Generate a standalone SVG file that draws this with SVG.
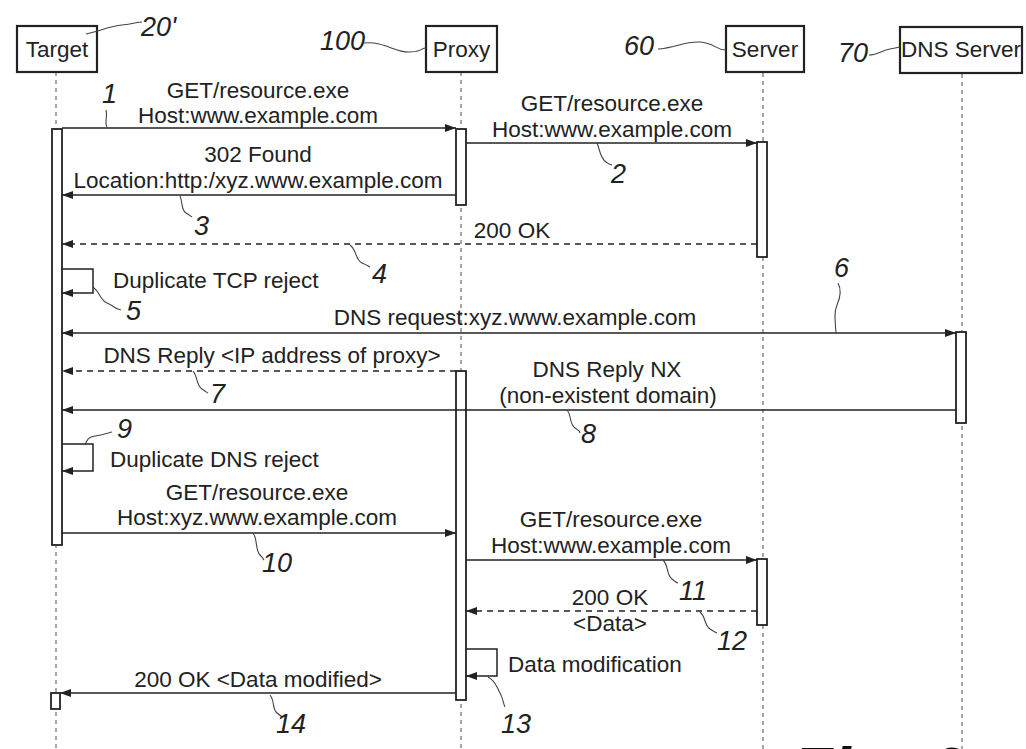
<svg xmlns="http://www.w3.org/2000/svg" width="1026" height="749" viewBox="0 0 1026 749">
<defs>
<marker id="ah" markerUnits="userSpaceOnUse" markerWidth="12" markerHeight="8" refX="11" refY="4" orient="auto-start-reverse">
<path d="M0,0 L11,4 L0,8 z" fill="#222"/>
</marker>
<style>
.box{fill:#fff;stroke:#222;stroke-width:2.2}
.bar{fill:#fff;stroke:#222;stroke-width:1.8}
.life{stroke:#777;stroke-width:1.3;stroke-dasharray:4 4;fill:none}
.msg{stroke:#222;stroke-width:1.5;fill:none}
.dash{stroke-dasharray:6 5}
.t{font-family:"Liberation Sans",Arial,sans-serif;font-size:22.5px;fill:#222}
.m{text-anchor:middle}
.n{font-family:"Liberation Sans",Arial,sans-serif;font-size:27px;font-style:italic;fill:#222}
.lead{stroke:#444;stroke-width:1.1;fill:none}
</style>
</defs>
<rect width="1026" height="749" fill="#fff"/>

<g id="lifelines">
<line class="life" x1="56" y1="72" x2="56" y2="749"/>
<line class="life" x1="461" y1="72" x2="461" y2="749"/>
<line class="life" x1="763" y1="73" x2="763" y2="749"/>
<line class="life" x1="962" y1="74" x2="962" y2="749"/>
</g>

<g id="target">
<rect class="box" x="17" y="26" width="80" height="46"/>
<text class="t m" x="57" y="57">Target</text>
<rect class="bar" x="52" y="129" width="10" height="416"/>
<rect class="bar" x="51" y="693" width="9" height="16"/>
</g>

<g id="proxy">
<rect class="box" x="426" y="26" width="71" height="46"/>
<text class="t m" x="461.5" y="57">Proxy</text>
<rect class="bar" x="456" y="129" width="10" height="76"/>
<rect class="bar" x="456" y="371" width="10" height="329"/>
</g>

<g id="server">
<rect class="box" x="726" y="26" width="78" height="46"/>
<text class="t m" x="765" y="57">Server</text>
<rect class="bar" x="757" y="142" width="10" height="115"/>
<rect class="bar" x="757" y="559" width="10" height="66"/>
</g>

<g id="dns-server">
<rect class="box" x="900" y="27" width="122" height="46"/>
<text class="t m" x="961" y="57">DNS Server</text>
<rect class="bar" x="956" y="332" width="10" height="91"/>
</g>

<g id="connectors">
<line class="msg" x1="62" y1="128" x2="456" y2="128" marker-end="url(#ah)"/>
<line class="msg" x1="466" y1="143" x2="757" y2="143" marker-end="url(#ah)"/>
<line class="msg" x1="456" y1="195" x2="62" y2="195" marker-end="url(#ah)"/>
<line class="msg dash" x1="757" y1="244" x2="62" y2="244" marker-end="url(#ah)"/>
<path class="msg" d="M62,269 H93 V293 H62" marker-end="url(#ah)"/>
<line class="msg" x1="62" y1="333" x2="956" y2="333" marker-start="url(#ah)" marker-end="url(#ah)"/>
<line class="msg dash" x1="456" y1="371" x2="62" y2="371" marker-end="url(#ah)"/>
<line class="msg" x1="956" y1="410" x2="62" y2="410" marker-end="url(#ah)"/>
<path class="msg" d="M62,444 H93 V471 H62" marker-end="url(#ah)"/>
<line class="msg" x1="62" y1="533" x2="456" y2="533" marker-end="url(#ah)"/>
<line class="msg" x1="466" y1="560" x2="757" y2="560" marker-end="url(#ah)"/>
<line class="msg dash" x1="757" y1="611" x2="466" y2="611" marker-end="url(#ah)"/>
<path class="msg" d="M466,649 H497 V676 H466" marker-end="url(#ah)"/>
<line class="msg" x1="456" y1="693" x2="60" y2="693" marker-end="url(#ah)"/>
</g>

<g id="message-labels">
<text class="t m" x="258" y="97.5">GET/resource.exe</text>
<text class="t m" x="258" y="123">Host:www.example.com</text>
<text class="t m" x="612" y="111">GET/resource.exe</text>
<text class="t m" x="612" y="136.5">Host:www.example.com</text>
<text class="t m" x="258" y="162">302 Found</text>
<text class="t m" x="258" y="187.5">Location:http:/xyz.www.example.com</text>
<text class="t m" x="512" y="238">200 OK</text>
<text class="t" x="113" y="288">Duplicate TCP reject</text>
<text class="t m" x="515" y="325">DNS request:xyz.www.example.com</text>
<text class="t m" x="272" y="363">DNS Reply &lt;IP address of proxy&gt;</text>
<text class="t m" x="607" y="377">DNS Reply NX</text>
<text class="t m" x="608" y="402.5">(non-existent domain)</text>
<text class="t" x="110" y="467">Duplicate DNS reject</text>
<text class="t m" x="257" y="499.5">GET/resource.exe</text>
<text class="t m" x="257" y="525">Host:xyz.www.example.com</text>
<text class="t m" x="611" y="527">GET/resource.exe</text>
<text class="t m" x="611" y="552.5">Host:www.example.com</text>
<text class="t m" x="610" y="604.5">200 OK</text>
<text class="t m" x="610" y="630.5">&lt;Data&gt;</text>
<text class="t" x="508" y="672">Data modification</text>
<text class="t m" x="258" y="687">200 OK &lt;Data modified&gt;</text>
</g>

<g id="reference-numerals">
<path class="lead" d="M86,34 C100,31 110,26 122,25 S136,22 142,22"/>
<text class="n" x="141" y="36">20'</text>
<path class="lead" d="M364,43 C385,41 395,53 410,52 S420,48 426,48"/>
<text class="n" x="320" y="50">100</text>
<path class="lead" d="M658,49 C675,48 685,41 700,42 S715,50 726,50"/>
<text class="n" x="624" y="55">60</text>
<path class="lead" d="M869,55 C878,55 882,50 890,49 S897,47 900,47"/>
<text class="n" x="838" y="62">70</text>
<path class="lead" d="M107,127 C104,122 108,117 106,110"/>
<text class="n" x="102" y="103">1</text>
<path class="lead" d="M597,143 C600,150 600,158 606,162 S610,164 612,165"/>
<text class="n" x="611" y="183">2</text>
<path class="lead" d="M180,196 C183,203 181,210 186,213 S190,216 192,217"/>
<text class="n" x="194" y="235">3</text>
<path class="lead" d="M350,245 C357,250 355,260 362,263 S368,266 370,267"/>
<text class="n" x="372" y="283">4</text>
<path class="lead" d="M93,287 C100,292 100,300 107,303 S115,309 121,310"/>
<text class="n" x="126" y="320">5</text>
<path class="lead" d="M838,283 C842,290 840,298 837,305 S835,320 836,333"/>
<text class="n" x="834" y="277">6</text>
<path class="lead" d="M193,371 C198,377 196,385 202,389 S206,392 208,393"/>
<text class="n" x="210" y="403">7</text>
<path class="lead" d="M567,410 C572,416 569,424 575,428 S579,431 580,433"/>
<text class="n" x="581" y="443">8</text>
<path class="lead" d="M85,445 C87,440 88,437 95,436 S108,433 112,432"/>
<text class="n" x="117" y="438">9</text>
<path class="lead" d="M253,533 C258,540 255,550 260,555 S262,558 264,560"/>
<text class="n" x="262" y="572">10</text>
<path class="lead" d="M663,560 C669,566 666,574 672,579 S676,582 678,583"/>
<text class="n" x="679" y="600">11</text>
<path class="lead" d="M700,612 C706,617 704,625 710,629 S715,632 717,633"/>
<text class="n" x="717" y="650">12</text>
<path class="lead" d="M488,677 C496,681 497,688 500,693 S503,703 505,707"/>
<text class="n" x="501" y="733">13</text>
<path class="lead" d="M270,695 C275,701 272,709 277,713 S281,716 283,717"/>
<text class="n" x="276" y="733">14</text>
</g>

<text x="792" y="794" style="font-family:'Liberation Sans',Arial,sans-serif;font-size:66px;font-style:italic;font-weight:bold;fill:#111">Fig. 6</text>
</svg>
